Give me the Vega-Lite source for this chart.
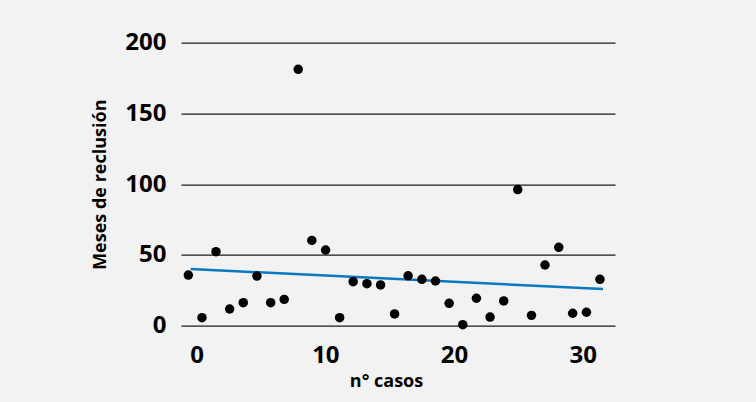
{
  "$schema": "https://vega.github.io/schema/vega-lite/v6.json",
  "width": 434,
  "height": 283,
  "autosize": {"type": "none"},
  "padding": {"left": 181, "top": 42.7, "right": 141, "bottom": 76.3},
  "background": "#f2f2f2",
  "config": {"view": {"stroke": null}, "font": "Open Sans"},
  "datasets": {
    "casos": [
      {"caso": -0.65, "meses": 35.8},
      {"caso": 0.41, "meses": 5.7},
      {"caso": 1.50, "meses": 52.3},
      {"caso": 2.56, "meses": 11.8},
      {"caso": 3.62, "meses": 16.3},
      {"caso": 4.68, "meses": 35.1},
      {"caso": 5.75, "meses": 16.3},
      {"caso": 6.80, "meses": 18.6},
      {"caso": 7.89, "meses": 181.2},
      {"caso": 8.95, "meses": 60.3},
      {"caso": 10.02, "meses": 53.5},
      {"caso": 11.11, "meses": 5.7},
      {"caso": 12.16, "meses": 31.1},
      {"caso": 13.23, "meses": 29.7},
      {"caso": 14.29, "meses": 28.8},
      {"caso": 15.38, "meses": 8.3},
      {"caso": 16.43, "meses": 35.3},
      {"caso": 17.50, "meses": 32.8},
      {"caso": 18.56, "meses": 31.6},
      {"caso": 19.62, "meses": 15.8},
      {"caso": 20.68, "meses": 0.7},
      {"caso": 21.74, "meses": 19.4},
      {"caso": 22.80, "meses": 6.1},
      {"caso": 23.86, "meses": 17.5},
      {"caso": 24.95, "meses": 96.2},
      {"caso": 26.02, "meses": 7.3},
      {"caso": 27.07, "meses": 42.9},
      {"caso": 28.14, "meses": 55.4},
      {"caso": 29.22, "meses": 8.8},
      {"caso": 30.29, "meses": 9.5},
      {"caso": 31.34, "meses": 32.8}
    ],
    "tendencia": [
      {"caso": -0.47, "meses": 40.1},
      {"caso": 31.58, "meses": 25.9}
    ]
  },
  "layer": [
    {
      "data": {"name": "tendencia"},
      "mark": {"type": "line", "color": "#0b78c2", "strokeWidth": 2.5},
      "encoding": {
        "x": {"field": "caso", "type": "quantitative"},
        "y": {"field": "meses", "type": "quantitative"}
      }
    },
    {
      "data": {"name": "casos"},
      "mark": {"type": "circle", "size": 90, "color": "#000000", "opacity": 1},
      "encoding": {
        "x": {
          "field": "caso",
          "type": "quantitative",
          "scale": {"domain": [-1.22, 32.51], "nice": false, "zero": false},
          "axis": {
            "values": [0, 10, 20, 30],
            "grid": false,
            "domain": false,
            "ticks": false,
            "labelFontSize": 24,
            "labelFontWeight": "bold",
            "labelColor": "#000000",
            "labelPadding": 18,
            "labelFlush": false,
            "title": "n° casos",
            "titleFontSize": 18,
            "titleFontWeight": "bold",
            "titleColor": "#000000",
            "titleX": 205,
            "titleY": 61,
            "titleAlign": "center",
            "titleBaseline": "alphabetic"
          }
        },
        "y": {
          "field": "meses",
          "type": "quantitative",
          "scale": {"domain": [0, 200], "nice": false},
          "axis": {
            "values": [0, 50, 100, 150, 200],
            "grid": true,
            "gridColor": "#1a1a1a",
            "gridWidth": 1.2,
            "gridOpacity": 1,
            "domain": false,
            "ticks": false,
            "labelFontSize": 24,
            "labelFontWeight": "bold",
            "labelColor": "#000000",
            "labelPadding": 15,
            "title": "Meses de reclusión",
            "titleFontSize": 18,
            "titleFontWeight": "bold",
            "titleColor": "#000000",
            "titlePadding": 15
          }
        }
      }
    }
  ]
}
